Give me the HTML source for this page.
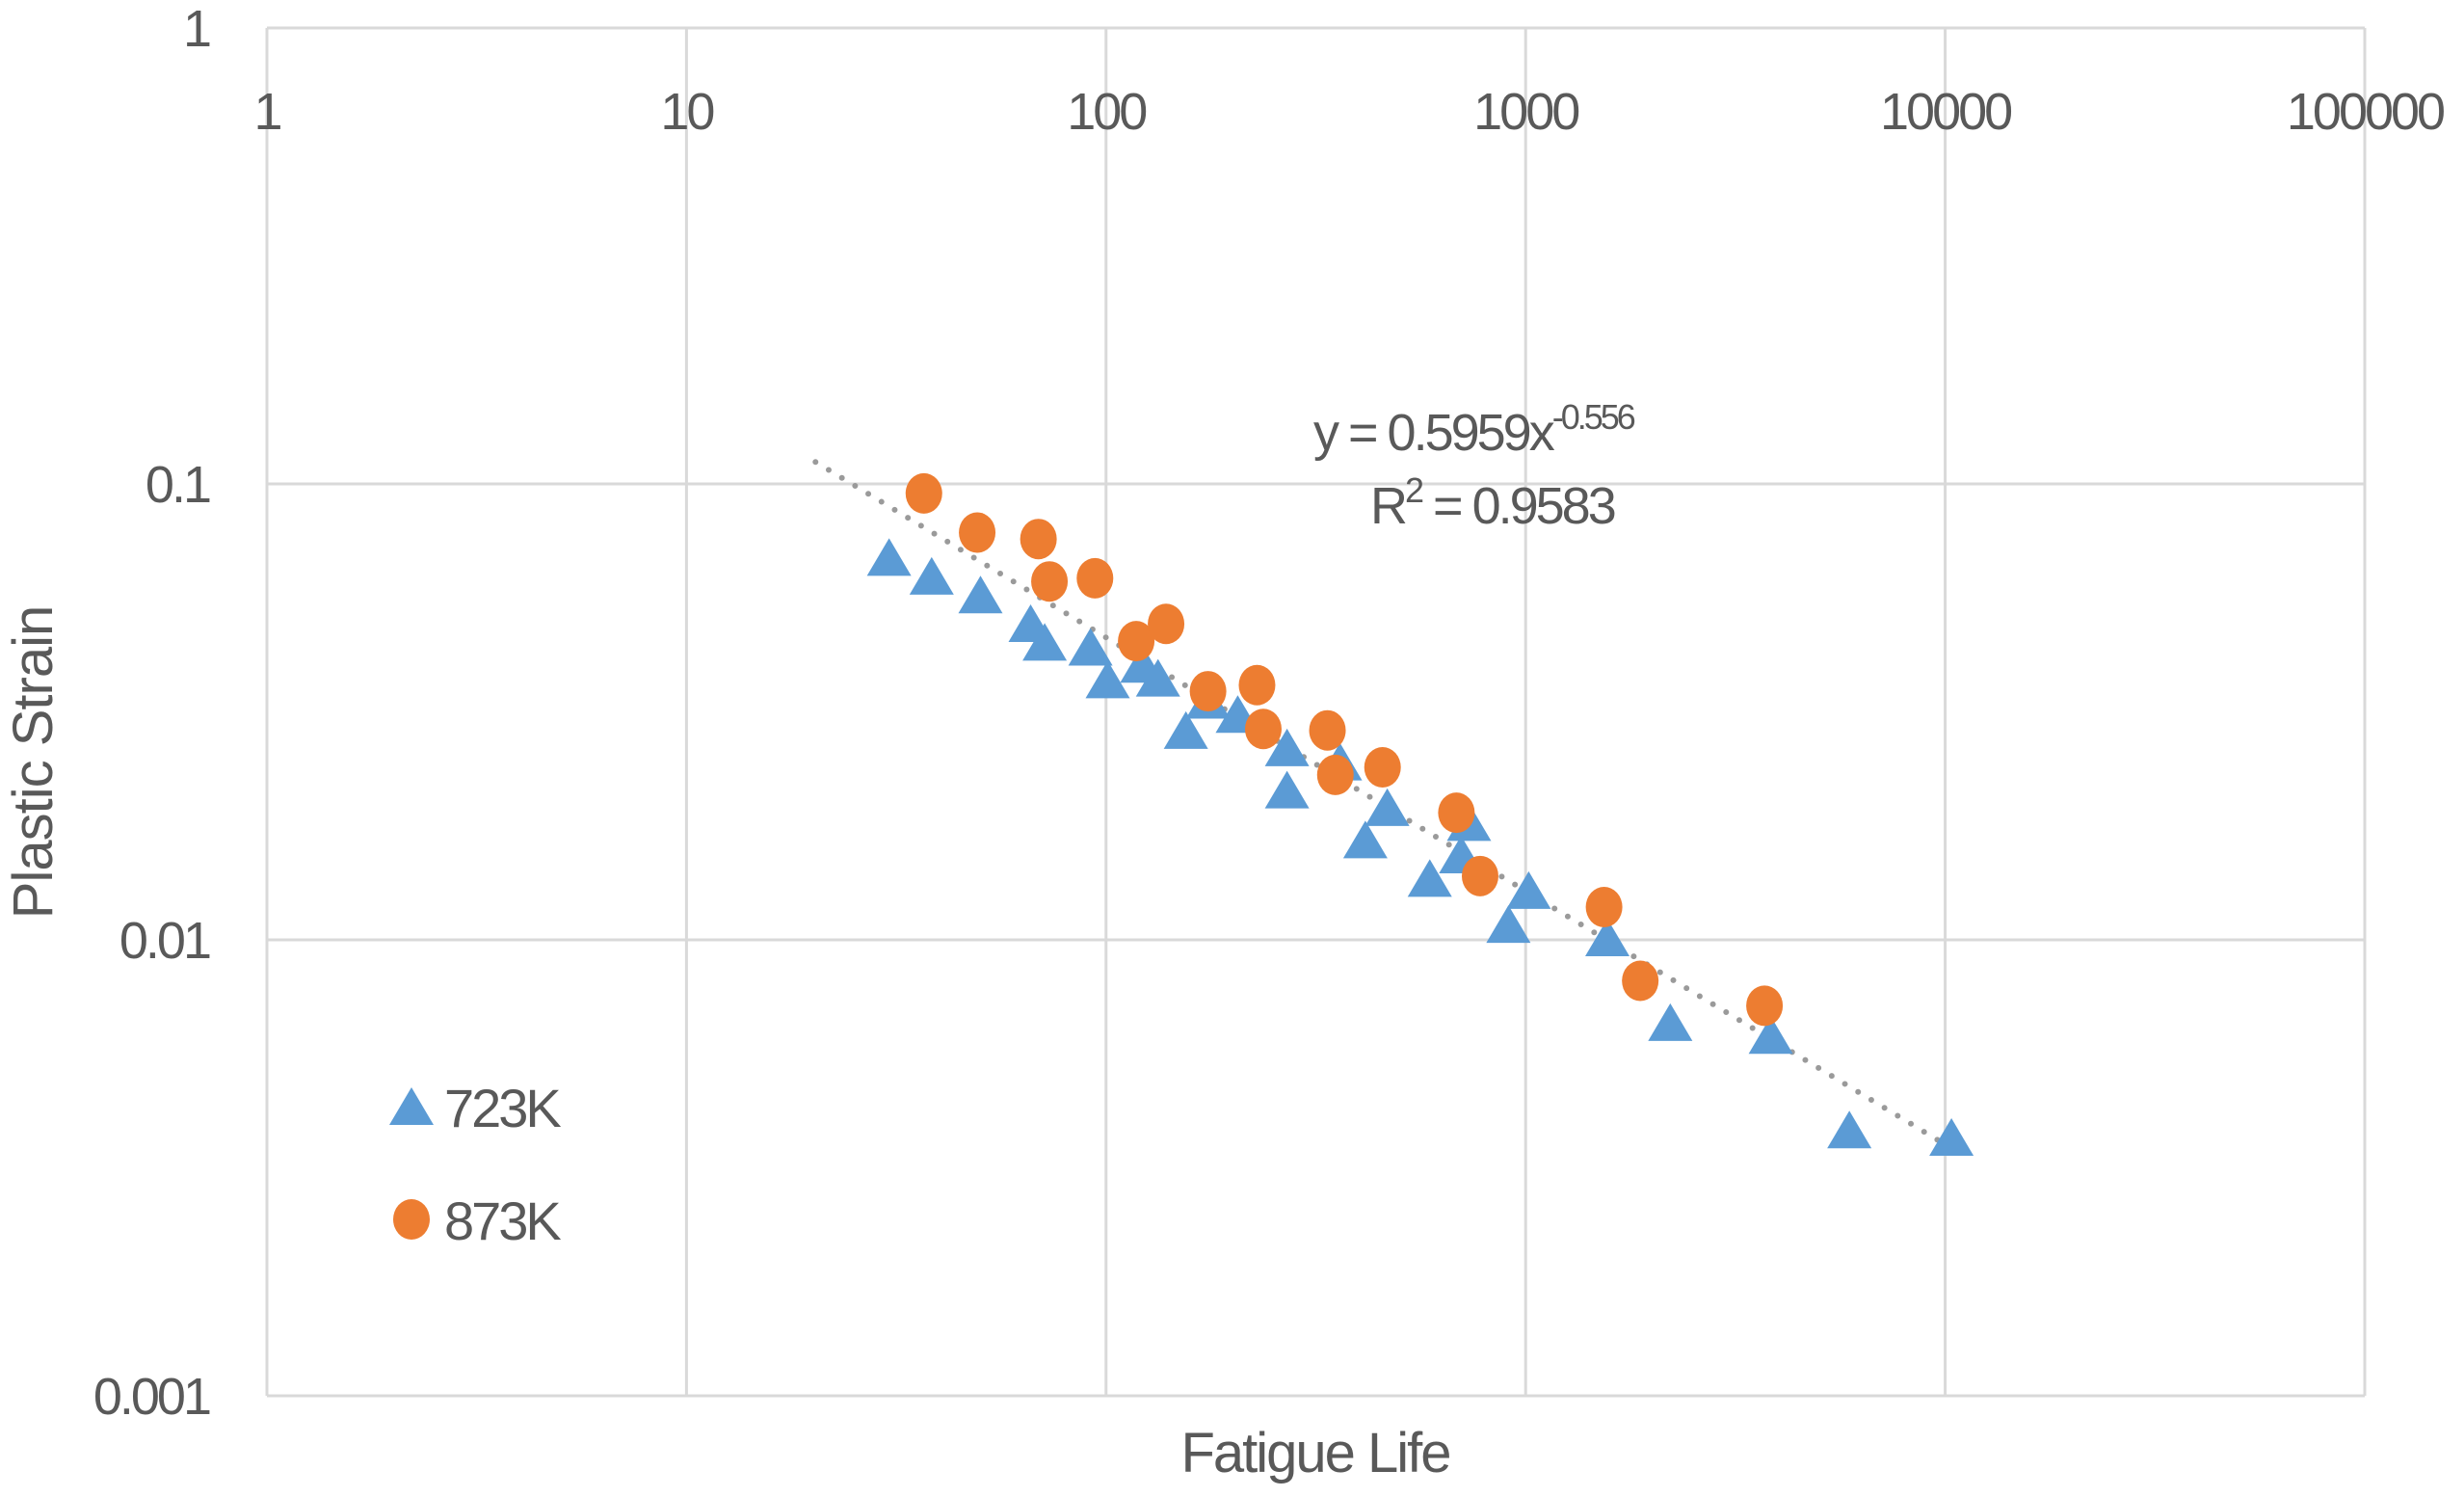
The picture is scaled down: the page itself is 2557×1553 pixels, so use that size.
<!DOCTYPE html>
<html><head><meta charset="utf-8"><style>
html,body{margin:0;padding:0;background:#fff;}
svg{display:block;}
text{font-family:"Liberation Sans",sans-serif;fill:#595959;}
</style></head><body>
<svg id="chart" width="2557" height="1553" viewBox="0 0 2557 1553" xmlns="http://www.w3.org/2000/svg">
<g id="grid"></g>
<g id="xticks"></g>
<g id="yticks"></g>
<path id="trend" fill="none" stroke="#9a9a9a" stroke-width="6" stroke-linecap="round" stroke-dasharray="0 16"></path>
<g id="s723"></g>
<g id="s873"></g>
<text x="1363" y="467" font-size="54" letter-spacing="-3">y = 0.5959x<tspan dy="-22" font-size="36">-0.556</tspan></text>
<text x="1422" y="543" font-size="54" letter-spacing="-3">R<tspan dy="-22" font-size="36">2</tspan><tspan dy="22"> = 0.9583</tspan></text>
<text x="1365" y="1527" font-size="58" text-anchor="middle" letter-spacing="-2">Fatigue Life</text>
<text transform="translate(54,791) rotate(-90)" font-size="58" text-anchor="middle" letter-spacing="-1">Plastic Strain</text>
<g>
<polygon points="427,1128 450,1167 404,1167" fill="#5b9bd5"/>
<text x="461" y="1169" font-size="56" letter-spacing="-3">723K</text>
<ellipse cx="427" cy="1265" rx="19" ry="21" fill="#ed7d31"/>
<text x="461" y="1286" font-size="56" letter-spacing="-3">873K</text>
</g>
</svg>
<script>
const xTickValues = [1, 10, 100, 1000, 10000, 100000];
const yTickValues = [1, 0.1, 0.01, 0.001];
const xTickLabels = ["1", "10", "100", "1000", "10000", "100000"];
const yTickLabels = ["1", "0.1", "0.01", "0.001"];
const life723 = [30.4,38.4,50.2,66.1,71.4,91.8,100.9,122,133,155,175,206,270,270,361,415,468,591,702,733,910,1017,1566,2212,3840,5910,10350];
const strain723 = [0.0683,0.0621,0.0565,0.0489,0.0445,0.0434,0.0368,0.0398,0.0371,0.0285,0.0332,0.0309,0.0261,0.0211,0.0243,0.0164,0.0193,0.0135,0.0152,0.0179,0.0107,0.0127,0.0100,0.00652,0.00611,0.00379,0.00365];
const life873 = [36.8,49.3,69.0,73.3,94.1,118,139,175,229,237,337,352,456,684,779,1538,1876,3710];
const strain873 = [0.0953,0.0782,0.0757,0.0611,0.0621,0.0452,0.0493,0.0351,0.0362,0.0290,0.0288,0.0230,0.0239,0.0190,0.0138,0.0118,0.00813,0.00717];
const trendCoef = 0.5959;
const trendExp = -0.556;
const trendRange = [20.3, 10350];

const L=277,R=2454,T=29,B=1448;
const NS="http://www.w3.org/2000/svg";
function xs(v){return L+(Math.log10(v)-0)/5*(R-L);}
function ys(v){return T+(0-Math.log10(v))/3*(B-T);}
function mk(tag,attrs,parent){const e=document.createElementNS(NS,tag);for(const k in attrs)e.setAttribute(k,attrs[k]);parent.appendChild(e);return e;}
const grid=document.getElementById('grid');
xTickValues.forEach((v,i)=>{
  const l=mk('line',{x1:xs(v),x2:xs(v),y1:T,y2:B,stroke:'#d9d9d9','stroke-width':3},grid);
  
  
  const t=mk('text',{x:xs(v),y:134,'font-size':54,'text-anchor':'middle','letter-spacing':-3},document.getElementById('xticks'));
  t.textContent=xTickLabels[i];
  
  
});
yTickValues.forEach((v,i)=>{
  const l=mk('line',{x1:L,x2:R,y1:ys(v),y2:ys(v),stroke:'#d9d9d9','stroke-width':3},grid);
  
  
  const t=mk('text',{x:217,y:ys(v)+19,'font-size':54,'text-anchor':'end','letter-spacing':-3},document.getElementById('yticks'));
  t.textContent=yTickLabels[i];
  
  
});
const x0=trendRange[0],x1=trendRange[1];
document.getElementById('trend').setAttribute('d','M'+xs(x0)+','+ys(trendCoef*Math.pow(x0,trendExp))+'L'+xs(x1)+','+ys(trendCoef*Math.pow(x1,trendExp)));
const g7=document.getElementById('s723');
life723.forEach((v,i)=>{
  const cx=xs(v),cy=ys(strain723[i]);
  const p=mk('polygon',{points:`${cx},${cy-22} ${cx+23},${cy+17} ${cx-23},${cy+17}`,fill:'#5b9bd5'},g7);
  
  
});
const g8=document.getElementById('s873');
life873.forEach((v,i)=>{
  const c=mk('ellipse',{cx:xs(v),cy:ys(strain873[i]),rx:19,ry:21,fill:'#ed7d31'},g8);
  
  
});
</script>
</body></html>
